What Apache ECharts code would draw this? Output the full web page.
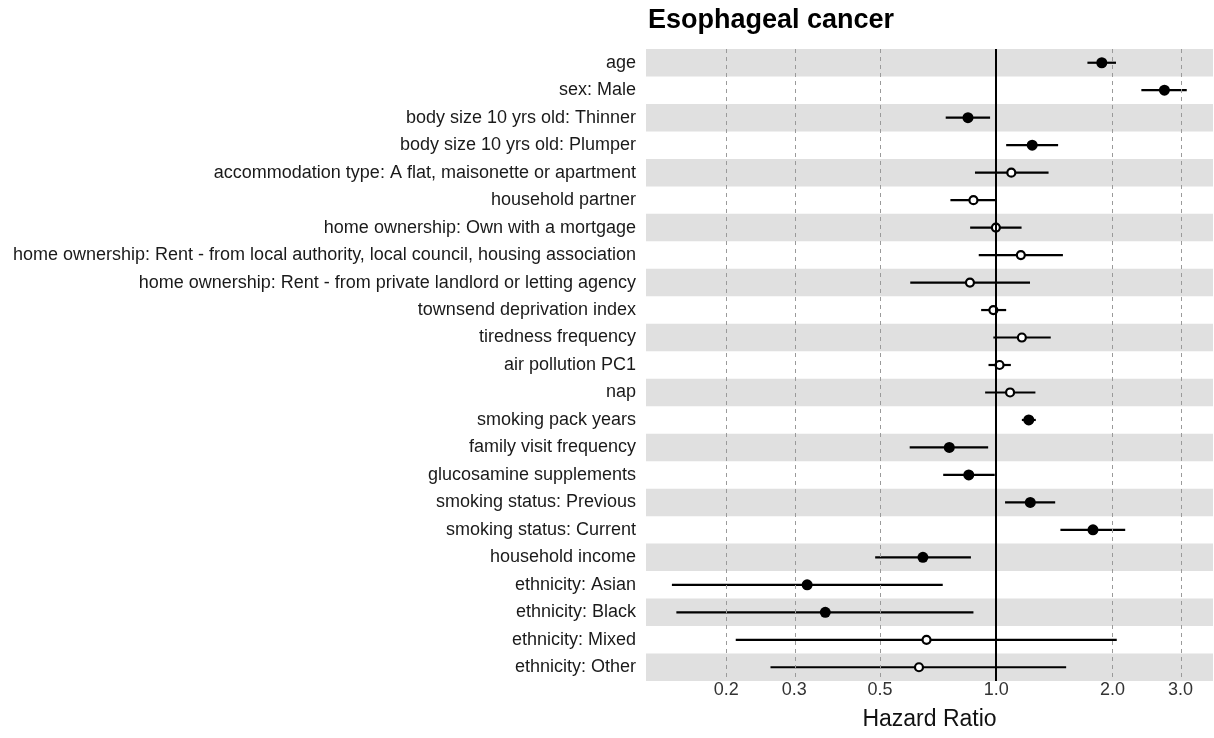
<!DOCTYPE html>
<html>
<head>
<meta charset="utf-8">
<script src="https://cdn.jsdelivr.net/npm/echarts@6/dist/echarts.min.js"></script>
<style>html,body{margin:0;padding:0;background:#fff}#c{width:1214px;height:738px}</style>
</head>
<body>
<div id="c"></div>
<script>
const categories = [
  "age",
  "sex: Male",
  "body size 10 yrs old: Thinner",
  "body size 10 yrs old: Plumper",
  "accommodation type: A flat, maisonette or apartment",
  "household partner",
  "home ownership: Own with a mortgage",
  "home ownership: Rent - from local authority, local council, housing association",
  "home ownership: Rent - from private landlord or letting agency",
  "townsend deprivation index",
  "tiredness frequency",
  "air pollution PC1",
  "nap",
  "smoking pack years",
  "family visit frequency",
  "glucosamine supplements",
  "smoking status: Previous",
  "smoking status: Current",
  "household income",
  "ethnicity: Asian",
  "ethnicity: Black",
  "ethnicity: Mixed",
  "ethnicity: Other"
];
const hazardRatio = [1.876, 2.725, 0.845, 1.239, 1.094, 0.873, 0.998, 1.158, 0.855, 0.983, 1.165, 1.020, 1.086, 1.214, 0.756, 0.849, 1.225, 1.780, 0.646, 0.324, 0.361, 0.660, 0.631];
const ciLower   = [1.722, 2.375, 0.740, 1.061, 0.881, 0.761, 0.856, 0.901, 0.599, 0.914, 0.983, 0.955, 0.936, 1.165, 0.597, 0.729, 1.054, 1.466, 0.486, 0.1447, 0.1486, 0.2117, 0.2604];
const ciUpper   = [2.042, 3.113, 0.964, 1.446, 1.366, 1.004, 1.163, 1.488, 1.223, 1.061, 1.384, 1.091, 1.263, 1.266, 0.953, 0.991, 1.421, 2.157, 0.860, 0.727, 0.873, 2.051, 1.517];
const significant = [true, true, true, true, false, false, false, false, false, false, false, false, false, true, true, true, true, true, true, true, true, false, false];
const tickValues = [0.2, 0.3, 0.5, 1.0, 2.0, 3.0];
const tickLabels = ["0.2", "0.3", "0.5", "1.0", "2.0", "3.0"];
const axisMin = 0.124, axisMax = 3.64;

const L = Math.log10;
const chart = echarts.init(document.getElementById('c'));

const ciData = categories.map((c, i) => [L(ciLower[i]), L(ciUpper[i]), i]);
const pointData = categories.map((c, i) => ({
  value: [L(hazardRatio[i]), i],
  symbolSize: significant[i] ? 11 : 8,
  itemStyle: significant[i]
    ? { color: '#000', borderColor: '#000', borderWidth: 0, opacity: 1 }
    : { color: '#fff', borderColor: '#000', borderWidth: 2.2, opacity: 1 }
}));

chart.setOption({
  animation: false,
  title: {
    text: 'Esophageal cancer',
    left: 643, top: 2,
    textStyle: { fontFamily: 'Liberation Sans', fontWeight: 'bold', fontSize: 27, color: '#000' }
  },
  grid: { left: 646, right: 1, top: 49, bottom: 57, containLabel: false },
  xAxis: {
    type: 'value',
    min: L(axisMin), max: L(axisMax),
    name: 'Hazard Ratio', nameLocation: 'middle', nameGap: 27,
    nameTextStyle: { fontFamily: 'Liberation Sans', fontSize: 23, color: '#111' },
    axisLine: { show: false },
    axisTick: { show: false, customValues: tickValues.map(L) },
    splitLine: { show: false },
    axisLabel: {
      customValues: tickValues.map(L),
      margin: 0,
      fontFamily: 'Liberation Sans', fontSize: 18, color: '#333',
      formatter: v => {
        let best = 0;
        tickValues.forEach((t, k) => { if (Math.abs(L(t) - v) < Math.abs(L(tickValues[best]) - v)) best = k; });
        return tickLabels[best];
      }
    }
  },
  yAxis: {
    type: 'category',
    data: categories,
    inverse: true,
    axisLine: { show: false },
    axisTick: { show: false },
    axisLabel: { fontFamily: 'Liberation Sans', fontSize: 18, color: '#1a1a1a', margin: 10 },
    splitLine: { show: false },
    splitArea: { show: true, areaStyle: { color: ['#e0e0e0', 'rgba(255,255,255,0)'] } }
  },
  series: [
    {
      type: 'scatter',
      data: [],
      silent: true,
      markLine: {
        silent: true, symbol: 'none', label: { show: false },
        data: tickValues.filter(t => t !== 1).map(t => ({ xAxis: L(t), lineStyle: { color: '#9a9a9a', width: 1, type: [4, 4] } }))
          .concat([{ xAxis: 0, lineStyle: { color: '#000', width: 2, type: 'solid' } }])
      }
    },
    {
      type: 'custom',
      data: ciData,
      encode: { x: [0, 1], y: 2 },
      renderItem: (params, api) => {
        const p1 = api.coord([api.value(0), api.value(2)]);
        const p2 = api.coord([api.value(1), api.value(2)]);
        return { type: 'line', shape: { x1: p1[0], y1: p1[1], x2: p2[0], y2: p2[1] }, style: { stroke: '#000', lineWidth: 2.2 } };
      },
      z: 3
    },
    {
      type: 'scatter',
      data: pointData,
      symbol: 'circle',
      z: 4
    }
  ]
});
</script>
</body>
</html>
